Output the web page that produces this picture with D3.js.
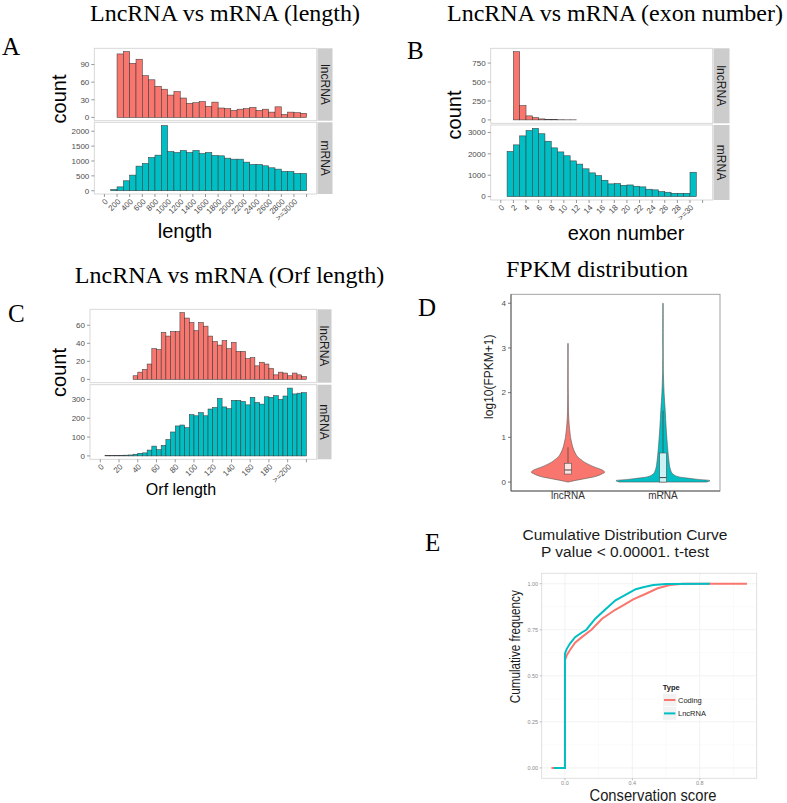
<!DOCTYPE html>
<html><head><meta charset="utf-8">
<script src="https://cdn.jsdelivr.net/npm/d3@7"></script>
<style>body{margin:0;background:#fff} svg{display:block}</style>
</head><body>
<svg id="c" width="787" height="803"></svg>
<script>
// ---------------- DATA ----------------
const facetLabels = ["lncRNA", "mRNA"];

// A: transcript length (bin width 100)
const lengthTicks = [0,200,400,600,800,1000,1200,1400,1600,1800,2000,2200,2400,2600,2800,3000,3200];
const lengthTickLabels = ["0","200","400","600","800","1000","1200","1400","1600","1800","2000","2200","2400","2600","2800",">=3000",""];
const lengthLnc = [0,0,108,112,92,99,71,64,53,48,38,44,33,24,25,27,19,26,16,15,12,14,15,17,12,14,9,18,5,9,8,7];
const lengthMrna = [0,45,130,335,525,827,916,1117,1196,2190,1318,1285,1352,1285,1352,1251,1285,1184,1173,1095,1061,1061,961,883,883,838,771,726,648,648,581,581];
const lengthYTicksLnc = [0,30,60,90];
const lengthYTicksMrna = [0,500,1000,1500,2000];

// B: exon number (bin width 1)
const exonTicks = [0,2,4,6,8,10,12,14,16,18,20,22,24,26,28,30,32];
const exonTickLabels = ["0","2","4","6","8","10","12","14","16","18","20","22","24","26","28",">=30",""];
const exonLnc = [0,0,900,189,53,31,13,5,3,2,1,1,0,0,0,0,0,0,0,0,0,0,0,0,0,0,0,0,0,0,0,0];
const exonMrna = [0,2110,2420,2840,3090,3190,2940,2590,2280,2090,1910,1670,1520,1300,1110,985,765,595,610,530,545,485,455,345,315,235,205,155,155,155,1140,0];
const exonYTicksLnc = [0,250,500,750];
const exonYTicksMrna = [0,1000,2000,3000];

// C: ORF length (bin width 5)
const orfTicks = [0,20,40,60,80,100,120,140,160,180,200,220];
const orfTickLabels = ["0","20","40","60","80","100","120","140","160","180",">=200",""];
const orfLnc = [0,0,0,0,0,0,0,4,8,11,17,34,33,52,48,53,53,74,68,63,54,63,59,48,42,38,43,34,41,31,31,23,24,15,19,17,12,5,8,7,4,7,5,3];
const orfMrna = [0,1,1,2,3,4,5,9,14,16,31,52,33,56,87,127,159,164,150,219,213,230,213,249,257,305,260,251,295,295,289,271,311,284,275,314,311,320,300,318,360,329,333,336];
const orfYTicksLnc = [0,20,40,60];
const orfYTicksMrna = [0,100,200,300];

// D: FPKM violins (relative density at log10(FPKM+1) levels) + box stats
const violinCategories = ["lncRNA", "mRNA"];
const lncViolinLevels = [0,0.03,0.08,0.13,0.18,0.22,0.26,0.30,0.35,0.40,0.45,0.50,0.55,0.60,0.70,0.80,0.90,1.00,1.10,1.20,1.35,1.5,2.0,3.1];
const lncViolinDensity = [0.01,0.13,0.38,0.6,0.72,0.78,0.745,0.66,0.53,0.43,0.34,0.28,0.22,0.18,0.13,0.096,0.074,0.053,0.043,0.032,0.021,0.013,0.006,0.004];
const mrnaViolinLevels = [0,0.03,0.06,0.09,0.12,0.16,0.2,0.3,0.4,0.5,0.6,0.7,0.8,1.0,1.2,1.4,1.6,1.8,2.0,2.2,2.4,2.6,3.0,4.0];
const mrnaViolinDensity = [0.93,1,0.745,0.51,0.32,0.234,0.19,0.153,0.134,0.123,0.113,0.104,0.096,0.081,0.068,0.057,0.047,0.034,0.023,0.015,0.0096,0.0064,0.0043,0.0032];
const boxQ1 = [0.18, 0.0];
const boxMedian = [0.27, 0.1];
const boxQ3 = [0.42, 0.65];
const boxWhiskerHigh = [0.78, 1.6];
const fpkmYTicks = [0,1,2,3,4];

// E: cumulative distribution of conservation score
const cdfTypes = ["Coding", "LncRNA"];
const codingX = [-0.08,0,0,0.01,0.03,0.06,0.1,0.157,0.22,0.296,0.35,0.405,0.484,0.55,0.623,0.7,1.08];
const codingY = [0,0,0.585,0.61,0.64,0.68,0.71,0.75,0.81,0.857,0.885,0.915,0.947,0.975,0.993,1.0,1.0];
const lncX = [-0.065,0,0,0.01,0.03,0.06,0.1,0.127,0.18,0.236,0.3,0.375,0.42,0.47,0.524,0.6,0.86];
const lncY = [0,0,0.62,0.645,0.675,0.71,0.735,0.75,0.81,0.857,0.91,0.947,0.97,0.982,0.993,0.998,1.0];
const cdfXTicks = [0,0.4,0.8];
const cdfXTickLabels = ["0.0","0.4","0.8"];
const cdfYTicks = [0,0.25,0.5,0.75,1];
const cdfYTickLabels = ["0.00","0.25","0.50","0.75","1.00"];

// ---------------- STYLE ----------------
const RED = "#F8766D", TEAL = "#00BFC4";
const SANS = "'Liberation Sans', Arial, Helvetica, sans-serif";
const SERIF = "'Liberation Serif', 'Times New Roman', serif";
const svg = d3.select("#c");

function txt(x, y, s, o) {
  o = o || {};
  const t = svg.append("text").attr("x", x).attr("y", y).text(s)
    .attr("font-family", o.family || SANS).attr("font-size", o.size || 10)
    .attr("fill", o.fill || "#000").attr("text-anchor", o.anchor || "start");
  if (o.weight) t.attr("font-weight", o.weight);
  if (o.rotate !== undefined) t.attr("transform", `rotate(${o.rotate},${x},${y})`);
  if (o.len) t.attr("textLength", o.len).attr("lengthAdjust", "spacingAndGlyphs");
  if (o.dy) t.attr("dy", o.dy);
  return t;
}

// ---------------- FACETED HISTOGRAMS ----------------
function facetHist(L, D) {
  const x = d3.scaleLinear()
    .domain([-0.05 * D.xMax, 1.05 * D.xMax]).range([L.left, L.right]);
  const series = [
    {vals: D.lnc, ticks: D.yTicks1, top: L.p1[0], bot: L.p1[1], color: RED, label: facetLabels[0]},
    {vals: D.mrna, ticks: D.yTicks2, top: L.p2[0], bot: L.p2[1], color: TEAL, label: facetLabels[1]}
  ];
  series.forEach(s => {
    const m = d3.max(s.vals);
    const y = d3.scaleLinear().domain([-0.05 * m, 1.05 * m]).range([s.bot, s.top]);
    const g = svg.append("g");
    g.append("rect").attr("x", L.left).attr("y", s.top)
      .attr("width", L.right - L.left).attr("height", s.bot - s.top)
      .attr("fill", "#fff").attr("stroke", "#d4d4d4").attr("stroke-width", 0.9);
    // strip
    g.append("rect").attr("x", L.right + 0.8).attr("y", s.top)
      .attr("width", L.stripW).attr("height", s.bot - s.top).attr("fill", "#cccccc");
    const sx = L.right + 0.8 + L.stripW / 2, sy = (s.top + s.bot) / 2;
    g.append("text").attr("transform", `translate(${sx},${sy}) rotate(90)`)
      .attr("text-anchor", "middle").attr("dy", "0.35em")
      .attr("font-family", SANS).attr("font-size", 12).attr("fill", "#1a1a1a").text(s.label);
    // bars
    g.selectAll("rect.bar").data(s.vals).enter().append("rect").attr("class", "bar")
      .attr("x", (d, i) => x(i * D.binW))
      .attr("width", (d, i) => x((i + 1) * D.binW) - x(i * D.binW))
      .attr("y", d => y(d)).attr("height", d => y(0) - y(d))
      .attr("fill", s.color).attr("stroke", "#3a3a3a").attr("stroke-width", 0.55);
    // y ticks
    s.ticks.forEach(t => {
      g.append("line").attr("x1", L.left - 3).attr("x2", L.left)
        .attr("y1", y(t)).attr("y2", y(t)).attr("stroke", "#7f7f7f").attr("stroke-width", 0.8);
      g.append("text").attr("x", L.left - 5).attr("y", y(t)).attr("dy", "0.35em")
        .attr("text-anchor", "end").attr("font-family", SANS).attr("font-size", 8)
        .attr("fill", "#4d4d4d").text(t);
    });
  });
  const xb = L.p2[1];
  D.ticks.forEach((t, i) => {
    svg.append("line").attr("x1", x(t)).attr("x2", x(t)).attr("y1", xb).attr("y2", xb + 3)
      .attr("stroke", "#7f7f7f").attr("stroke-width", 0.8);
    svg.append("text").attr("transform", `translate(${x(t) + 2},${xb + 6}) rotate(-45)`)
      .attr("text-anchor", "end").attr("dy", "0.35em")
      .attr("font-family", SANS).attr("font-size", 8).attr("fill", "#4d4d4d")
      .text(D.tickLabels[i]);
  });
}

// A
facetHist({left: 94.3, right: 316.7, stripW: 15, p1: [48.3, 120.7], p2: [122.3, 194]},
  {xMax: 3200, binW: 100, lnc: lengthLnc, mrna: lengthMrna, yTicks1: lengthYTicksLnc,
   yTicks2: lengthYTicksMrna, ticks: lengthTicks, tickLabels: lengthTickLabels});
txt(225, 21, "LncRNA vs mRNA (length)", {family: SERIF, size: 24, anchor: "middle"});
txt(2, 55, "A", {family: SERIF, size: 25});
txt(66, 99, "count", {size: 20, anchor: "middle", rotate: -90});
txt(185, 238, "length", {size: 20, anchor: "middle"});

// B
facetHist({left: 490.7, right: 712.7, stripW: 16, p1: [48.3, 123.3], p2: [125, 200]},
  {xMax: 32, binW: 1, lnc: exonLnc, mrna: exonMrna, yTicks1: exonYTicksLnc,
   yTicks2: exonYTicksMrna, ticks: exonTicks, tickLabels: exonTickLabels});
txt(615, 21, "LncRNA vs mRNA (exon number)", {family: SERIF, size: 24, anchor: "middle"});
txt(407, 59, "B", {family: SERIF, size: 25});
txt(461, 115, "count", {size: 20, anchor: "middle", rotate: -90});
txt(626, 240, "exon number", {size: 20, anchor: "middle"});

// C
facetHist({left: 90, right: 316.7, stripW: 14, p1: [309.3, 382.7], p2: [384.7, 459.3]},
  {xMax: 220, binW: 5, lnc: orfLnc, mrna: orfMrna, yTicks1: orfYTicksLnc,
   yTicks2: orfYTicksMrna, ticks: orfTicks, tickLabels: orfTickLabels});
txt(229.5, 283, "LncRNA vs mRNA (Orf length)", {family: SERIF, size: 24, anchor: "middle"});
txt(8, 322, "C", {family: SERIF, size: 25});
txt(66, 372.5, "count", {size: 20, anchor: "middle", rotate: -90});
txt(181, 495, "Orf length", {size: 16, anchor: "middle"});

// ---------------- D: VIOLINS ----------------
(function () {
  const left = 511, right = 720, top = 294.3, bot = 491;
  const x = d3.scalePoint().domain(violinCategories).range([left, right]).padding(0.6);
  const y = d3.scaleLinear().domain([-0.2, 4.2]).range([bot, top]);
  const w = d3.scaleLinear().domain([0, 1]).range([0, 47]);
  svg.append("rect").attr("x", left).attr("y", top).attr("width", right - left)
    .attr("height", bot - top).attr("fill", "#fff").attr("stroke", "#9a9a9a").attr("stroke-width", 0.9);
  svg.append("line").attr("x1", left).attr("x2", left).attr("y1", top).attr("y2", bot)
    .attr("stroke", "#555").attr("stroke-width", 0.9);
  svg.append("line").attr("x1", left).attr("x2", right).attr("y1", bot).attr("y2", bot)
    .attr("stroke", "#555").attr("stroke-width", 0.9);
  const sets = [
    {levels: lncViolinLevels, dens: lncViolinDensity, color: RED, boxFill: "#fde3e1"},
    {levels: mrnaViolinLevels, dens: mrnaViolinDensity, color: TEAL, boxFill: "#cdf1f2"}
  ];
  sets.forEach((s, i) => {
    const cx = x(violinCategories[i]);
    const pts = s.levels.map((v, j) => ({v, d: s.dens[j]}));
    const area = d3.area().y(p => y(p.v)).x0(p => cx - w(p.d)).x1(p => cx + w(p.d))
      .curve(d3.curveCatmullRom);
    svg.append("path").attr("d", area(pts)).attr("fill", s.color)
      .attr("stroke", "#555").attr("stroke-width", 0.6);
    const bw = 6.7;
    svg.append("line").attr("x1", cx).attr("x2", cx).attr("y1", y(boxQ3[i])).attr("y2", y(boxWhiskerHigh[i]))
      .attr("stroke", "#444").attr("stroke-width", 0.7);
    svg.append("rect").attr("x", cx - bw / 2).attr("width", bw)
      .attr("y", y(boxQ3[i])).attr("height", y(boxQ1[i]) - y(boxQ3[i]))
      .attr("fill", s.boxFill).attr("stroke", "#555").attr("stroke-width", 0.6);
    svg.append("line").attr("x1", cx - bw / 2).attr("x2", cx + bw / 2)
      .attr("y1", y(boxMedian[i])).attr("y2", y(boxMedian[i])).attr("stroke", "#333").attr("stroke-width", 0.9);
    svg.append("line").attr("x1", cx).attr("x2", cx).attr("y1", bot).attr("y2", bot + 3)
      .attr("stroke", "#555").attr("stroke-width", 0.8);
    txt(cx, 499, violinCategories[i], {size: 10, anchor: "middle", fill: "#333"});
  });
  fpkmYTicks.forEach(t => {
    svg.append("line").attr("x1", left - 3).attr("x2", left).attr("y1", y(t)).attr("y2", y(t))
      .attr("stroke", "#555").attr("stroke-width", 0.8);
    txt(left - 5, y(t), t, {size: 8, anchor: "end", fill: "#4d4d4d", dy: "0.35em"});
  });
  txt(489, 376.7, "log10(FPKM+1)", {size: 12, anchor: "middle", rotate: -90, dy: "0.35em", fill: "#1a1a1a"});
  txt(597, 277, "FPKM distribution", {family: SERIF, size: 24, anchor: "middle"});
  txt(418, 316, "D", {family: SERIF, size: 25});
})();

// ---------------- E: CDF ----------------
(function () {
  const left = 541.7, right = 756.7, top = 573.3, bot = 778.3;
  const x = d3.scaleLinear().domain([-0.138, 1.138]).range([left, right]);
  const y = d3.scaleLinear().domain([-0.0565, 1.0565]).range([bot, top]);
  svg.append("rect").attr("x", left).attr("y", top).attr("width", right - left)
    .attr("height", bot - top).attr("fill", "#fff");
  const minorX = [-0.2, 0.2, 0.6, 1.0], minorY = [0.125, 0.375, 0.625, 0.875];
  minorX.filter(v => v > -0.138).forEach(v => svg.append("line").attr("x1", x(v)).attr("x2", x(v))
    .attr("y1", top).attr("y2", bot).attr("stroke", "#f7f7f7").attr("stroke-width", 0.6));
  minorY.forEach(v => svg.append("line").attr("y1", y(v)).attr("y2", y(v))
    .attr("x1", left).attr("x2", right).attr("stroke", "#f7f7f7").attr("stroke-width", 0.6));
  cdfXTicks.forEach(v => svg.append("line").attr("x1", x(v)).attr("x2", x(v))
    .attr("y1", top).attr("y2", bot).attr("stroke", "#efefef").attr("stroke-width", 0.8));
  cdfYTicks.forEach(v => svg.append("line").attr("y1", y(v)).attr("y2", y(v))
    .attr("x1", left).attr("x2", right).attr("stroke", "#efefef").attr("stroke-width", 0.8));
  svg.append("rect").attr("x", left).attr("y", top).attr("width", right - left)
    .attr("height", bot - top).attr("fill", "none").attr("stroke", "#dcdcdc").attr("stroke-width", 0.9);

  const line = d3.line().x(d => x(d[0])).y(d => y(d[1]));
  svg.append("path").attr("d", line(codingX.map((v, i) => [v, codingY[i]])))
    .attr("fill", "none").attr("stroke", RED).attr("stroke-width", 2);
  svg.append("path").attr("d", line(lncX.map((v, i) => [v, lncY[i]])))
    .attr("fill", "none").attr("stroke", TEAL).attr("stroke-width", 2);

  cdfXTicks.forEach((v, i) => {
    svg.append("line").attr("x1", x(v)).attr("x2", x(v)).attr("y1", bot).attr("y2", bot + 2)
      .attr("stroke", "#999").attr("stroke-width", 0.6);
    txt(x(v), bot + 5, cdfXTickLabels[i], {size: 5.5, anchor: "middle", fill: "#8a8a8a", dy: "0.35em"});
  });
  cdfYTicks.forEach((v, i) => {
    svg.append("line").attr("x1", left - 2).attr("x2", left).attr("y1", y(v)).attr("y2", y(v))
      .attr("stroke", "#999").attr("stroke-width", 0.6);
    txt(left - 3.5, y(v), cdfYTickLabels[i], {size: 5.5, anchor: "end", fill: "#8a8a8a", dy: "0.35em"});
  });

  txt(625, 540, "Cumulative Distribution Curve", {size: 15.5, anchor: "middle", fill: "#1a1a1a", len: 205});
  txt(625, 557, "P value < 0.00001. t-test", {size: 15.5, anchor: "middle", fill: "#1a1a1a", len: 168});
  txt(425, 551, "E", {family: SERIF, size: 25});
  txt(515, 646.7, "Cumulative frequency", {size: 15, anchor: "middle", rotate: -90, dy: "0.35em", fill: "#1a1a1a", len: 113});
  txt(653, 801, "Conservation score", {size: 16, anchor: "middle", fill: "#1a1a1a", len: 127});

  // legend
  txt(662.7, 689.5, "Type", {size: 7.5, weight: "bold", fill: "#1a1a1a"});
  const colors = [RED, TEAL];
  cdfTypes.forEach((t, i) => {
    const ky = 693.3 + i * 13.4;
    svg.append("rect").attr("x", 662.7).attr("y", ky).attr("width", 14).attr("height", 13.4)
      .attr("fill", "#f2f2f2").attr("stroke", "#fff").attr("stroke-width", 0.6);
    svg.append("line").attr("x1", 664).attr("x2", 675.4).attr("y1", ky + 6.7).attr("y2", ky + 6.7)
      .attr("stroke", colors[i]).attr("stroke-width", 2);
    txt(678, ky + 6.7, t, {size: 7.5, fill: "#1a1a1a", dy: "0.35em"});
  });
})();
</script>
</body></html>
